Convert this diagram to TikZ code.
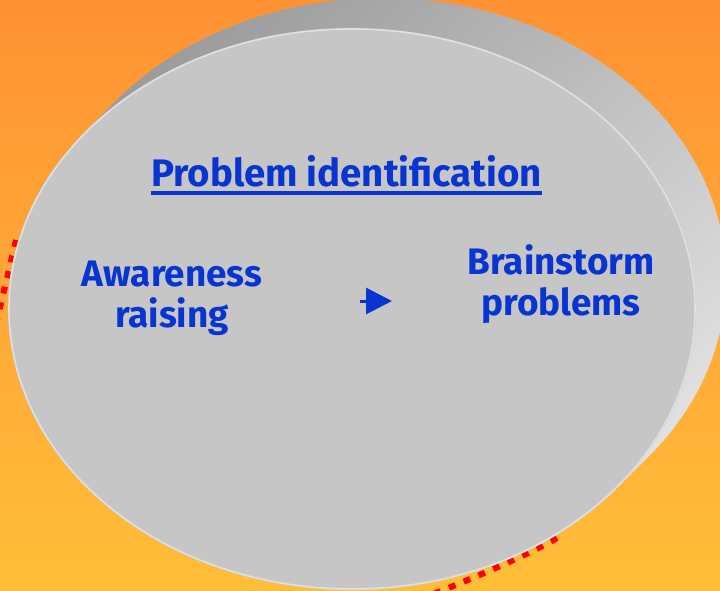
\documentclass[tikz,border=0pt]{standalone}
\usepackage{fontspec}
\setmainfont{Fira Sans}
\usetikzlibrary{arrows.meta}
\definecolor{bgtop}{RGB}{255,146,52}
\definecolor{bgbot}{RGB}{255,190,56}
\definecolor{sidedark}{RGB}{152,152,152}
\definecolor{sidelight}{RGB}{232,232,232}
\definecolor{face}{RGB}{198,198,198}
\definecolor{faceedge}{RGB}{224,224,224}
\definecolor{txtblue}{RGB}{8,52,208}
\definecolor{dashred}{RGB}{255,0,0}
\tikzset{
  lbl/.style={text=txtblue,font=\fontsize{37}{41.5}\selectfont\bfseries,align=center,inner sep=0pt},
  reddash/.style={draw=dashred,line width=6bp,dash pattern=on 7bp off 9bp},
}
\begin{document}
\begin{tikzpicture}[x=1bp,y=-1bp]
\useasboundingbox (0,0) rectangle (720,591);
\shade[top color=bgtop,bottom color=bgbot] (0,0) rectangle (720,591);
% red dashed curves (behind the disc)
\coordinate (l0) at (16,240);
\coordinate (l1) at (-8,340);
\draw[reddash] (l0) .. controls (10,265) and (2,300) .. (l1);
\coordinate (b0) at (557,538);
\coordinate (b1) at (428,596);
\draw[reddash] (b0) .. controls (536,551) and (470,580) .. (b1);
% disc side (sweep from back to front ellipse)
\begin{scope}
\clip \foreach \t in {0,0.04,...,1.0001} {
  ({382-30*\t},{279+30*\t}) ellipse [x radius=344, y radius=281]
};
\shade[top color=sidedark,bottom color=sidelight,shading angle=40] (-20,-20) rectangle (760,620);
\end{scope}
% front face
\fill[face] (352,309) ellipse [x radius=344, y radius=281];
\draw[faceedge,line width=1.6bp] (352,309) ellipse [x radius=343, y radius=280];
% texts
\node[lbl,anchor=base,font=\fontsize{38.5}{42}\selectfont\bfseries] (title) at (346.5,187) {Problem identification};
\draw[txtblue,line width=3bp] ([yshift=-6bp]title.base west) -- ([yshift=-6bp]title.base east);
\node[lbl] (aware) at (172,298) {Awareness\\raising};
\node[lbl] (brain) at (561,284) {Brainstorm\\problems};
\coordinate (as) at (360,301);
\coordinate (ae) at (392,301);
\draw[txtblue,line width=3bp,-{Triangle[length=26bp,width=26bp]}] (as) -- (ae);
\end{tikzpicture}
\end{document}
